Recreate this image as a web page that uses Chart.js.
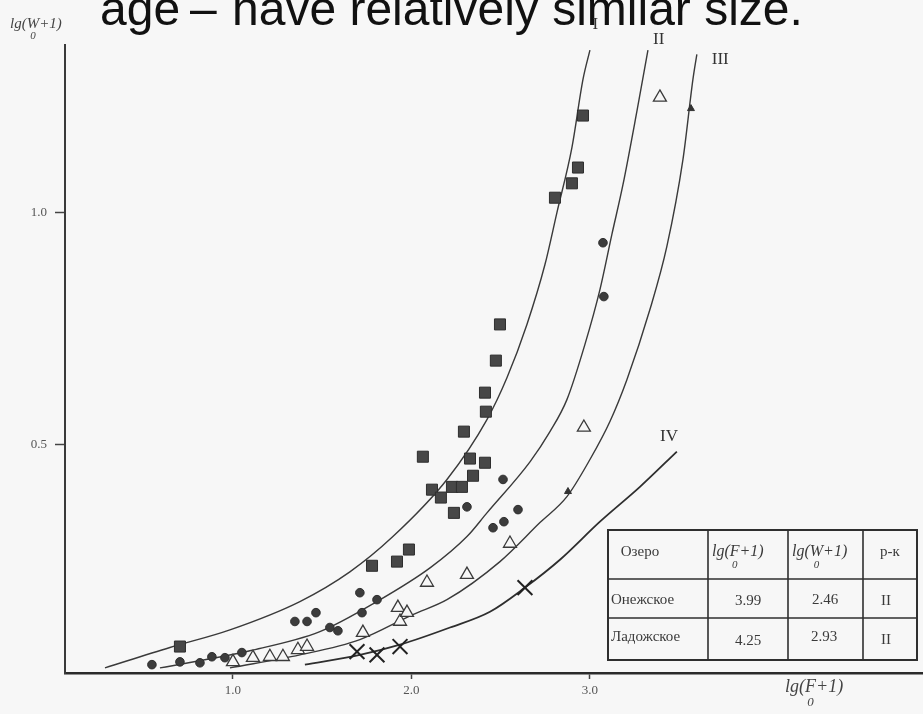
<!DOCTYPE html>
<html><head><meta charset="utf-8">
<script src="https://cdn.jsdelivr.net/npm/chart.js@4.4.1/dist/chart.umd.min.js"></script>
<style>html,body{margin:0;padding:0;background:#f7f7f7;}canvas{display:block;}</style>
</head><body>
<canvas id="c" width="923" height="714"></canvas>
<script>
// ---- tick values ----
const xTicks = [1.0, 2.0, 3.0];
const yTicks = [0.5, 1.0];

// ---- markers ----
const squaresX = [0.703,1.779,1.919,1.986,2.064,2.115,2.165,2.227,2.238,2.283,2.294,2.328,2.345,2.412,2.412,2.417,2.473,2.496,2.804,2.899,2.933,2.961];
const squaresY = [0.065,0.239,0.248,0.274,0.474,0.403,0.386,0.409,0.353,0.409,0.528,0.470,0.433,0.461,0.612,0.571,0.681,0.759,1.032,1.063,1.097,1.209];

const circlesX = [0.546,0.703,0.815,0.882,0.955,1.050,1.347,1.415,1.465,1.543,1.588,1.711,1.723,1.807,2.311,2.457,2.513,2.518,2.597,3.073,3.078];
const circlesY = [0.026,0.032,0.030,0.043,0.041,0.052,0.119,0.119,0.138,0.106,0.099,0.181,0.138,0.166,0.366,0.321,0.425,0.334,0.360,0.935,0.819];

const trianglesX = [1.000,1.112,1.207,1.280,1.364,1.415,1.728,1.924,1.936,1.975,2.087,2.311,2.552,2.966,3.392];
const trianglesY = [0.032,0.041,0.043,0.043,0.058,0.065,0.095,0.149,0.119,0.138,0.203,0.220,0.287,0.537,1.248];

const arrowsX = [2.877, 3.566];
const arrowsY = [0.399, 1.224];

const crossesX = [1.695, 1.807, 1.936, 2.636];
const crossesY = [0.054, 0.047, 0.065, 0.192];

// ---- curves ----
const curveIX = [0.283,0.647,0.983,1.375,1.655,1.896,2.199,2.423,2.535,2.647,2.748,2.815,2.899,2.961,3.000];
const curveIY = [0.019,0.063,0.101,0.162,0.226,0.302,0.425,0.554,0.644,0.759,0.888,1.000,1.140,1.287,1.350];

const curveIIX = [0.591,1.095,1.487,1.807,2.106,2.311,2.423,2.664,2.776,2.871,2.972,3.056,3.123,3.185,3.263,3.325];
const curveIIY = [0.019,0.056,0.097,0.162,0.235,0.302,0.353,0.463,0.528,0.597,0.716,0.834,0.953,1.060,1.218,1.350];

const curveIIIX = [0.983,1.375,1.711,2.008,2.199,2.496,2.720,2.871,3.000,3.112,3.207,3.336,3.431,3.521,3.577,3.599];
const curveIIIY = [0.019,0.047,0.080,0.134,0.166,0.248,0.332,0.388,0.468,0.550,0.640,0.791,0.927,1.114,1.287,1.341];

const curveIVX = [1.403,1.711,1.936,2.216,2.440,2.636,2.832,3.056,3.280,3.487];
const curveIVY = [0.026,0.047,0.069,0.106,0.140,0.192,0.252,0.334,0.409,0.485];

const curveNames = ['I','II','III','IV'];
const curveNameX = [3.030, 3.385, 3.730, 3.443];
const curveNameY = [1.405, 1.373, 1.330, 0.517];

// ---- inset table ----
const tableHead = ['Озеро', 'F', 'W', 'р-к'];
const tableLakes = ['Онежское', 'Ладожское'];
const tableF = ['3.99', '4.25'];
const tableW = ['2.46', '2.93'];
const tableType = ['II', 'II'];

const captionParts = ['age', '–', 'have relatively similar size.'];

const pts = (xs, ys) => xs.map((x, i) => ({x, y: ys[i]}));
const BG = '#f7f7f7';
const INK = '#333333';

function curve(xs, ys) {
  return {type:'line', data: pts(xs, ys), showLine:true, pointRadius:0, borderColor:'#3a3a3a',
    borderWidth:1.4, cubicInterpolationMode:'monotone', fill:false};
}

const extras = {
  id:'extras',
  beforeDraw(chart){
    const c = chart.ctx;
    c.save(); c.fillStyle = BG; c.fillRect(0,0,chart.width,chart.height); c.restore();
  },
  afterDraw(chart){
    const c = chart.ctx, xs = chart.scales.x, ys = chart.scales.y;
    c.save();
    // caption (cut off at top)
    c.fillStyle = '#111'; c.font = '48px "Liberation Sans", Arial, sans-serif';
    c.textBaseline = 'alphabetic'; c.textAlign = 'left';
    c.fillText(captionParts[0], 100, 25);
    c.fillText(captionParts[1], 190, 25);
    c.fillText(captionParts[2], 232, 25);

    // curve names
    c.fillStyle = INK; c.font = '17px "Liberation Serif", serif';
    c.textAlign = 'center'; c.textBaseline = 'middle';
    curveNames.forEach((n,i)=>c.fillText(n, xs.getPixelForValue(curveNameX[i]), ys.getPixelForValue(curveNameY[i])));

    // axis titles
    const lgText = (letter, x, y, size) => {
      c.textAlign = 'left'; c.textBaseline = 'alphabetic';
      c.font = 'italic ' + size + 'px "Liberation Serif", serif';
      const a = 'lg(' , b = letter, d = '+1)';
      c.fillText(a, x, y); let w = c.measureText(a).width;
      c.fillText(b, x + w, y); const wb = c.measureText(b).width;
      c.fillText(d, x + w + wb, y);
      c.font = 'italic ' + Math.round(size*0.7) + 'px "Liberation Serif", serif';
      c.textAlign = 'center';
      c.fillText('0', x + w + wb/2, y + size*0.75);
    };
    c.fillStyle = '#444';
    lgText('W', 10, 28, 15);
    lgText('F', 785, 692, 18);

    // table
    const L = 608, R = 917, T = 530, B = 660;
    const cols = [L, 708, 788, 863, R];
    const rows = [T, 579, 618, B];
    c.strokeStyle = '#2f2f2f'; c.lineWidth = 2;
    c.fillStyle = BG; c.fillRect(L, T, R-L, B-T);
    c.strokeRect(L, T, R-L, B-T);
    c.lineWidth = 1.6;
    cols.slice(1,-1).forEach(x=>{c.beginPath(); c.moveTo(x,T); c.lineTo(x,B); c.stroke();});
    rows.slice(1,-1).forEach(y=>{c.beginPath(); c.moveTo(L,y); c.lineTo(R,y); c.stroke();});
    c.fillStyle = '#3a3a3a';
    c.font = '15px "Liberation Serif", serif'; c.textBaseline = 'middle'; c.textAlign = 'center';
    c.fillText(tableHead[0], 640, 552);
    c.fillText(tableHead[3], 890, 552);
    lgText(tableHead[1], 712, 556, 16);
    lgText(tableHead[2], 792, 556, 16);
    c.font = '15px "Liberation Serif", serif'; c.textBaseline = 'middle';
    c.textAlign = 'left';
    c.fillText(tableLakes[0], 611, 600);
    c.fillText(tableLakes[1], 611, 637);
    c.textAlign = 'center';
    c.fillText(tableF[0], 748, 601); c.fillText(tableF[1], 748, 641);
    c.fillText(tableW[0], 825, 600); c.fillText(tableW[1], 824, 637);
    c.fillText(tableType[0], 886, 601); c.fillText(tableType[1], 886, 640);
    c.restore();
  }
};

new Chart(document.getElementById('c').getContext('2d'), {
  type:'scatter',
  data:{datasets:[
    {data: pts(squaresX, squaresY), pointStyle:'rect', pointRadius:7.8, backgroundColor:'#474747', borderColor:'#2e2e2e', borderWidth:1},
    {data: pts(circlesX, circlesY), pointStyle:'circle', pointRadius:4.3, backgroundColor:'#3c3c3c', borderColor:'#2e2e2e', borderWidth:1},
    {data: pts(trianglesX, trianglesY), pointStyle:'triangle', pointRadius:7.5, backgroundColor:BG, borderColor:'#3a3a3a', borderWidth:1.3},
    {data: pts(arrowsX, arrowsY), pointStyle:'triangle', pointRadius:4, backgroundColor:'#333', borderColor:'#333', borderWidth:1},
    {data: pts(crossesX, crossesY), pointStyle:'crossRot', pointRadius:10.5, backgroundColor:'#222', borderColor:'#222', borderWidth:2},
    curve(curveIX, curveIY),
    curve(curveIIX, curveIIY),
    curve(curveIIIX, curveIIIY),
    Object.assign(curve(curveIVX, curveIVY), {borderWidth:1.8, borderColor:'#2e2e2e'})
  ]},
  options:{
    responsive:false, animation:false, devicePixelRatio:1,
    layout:{autoPadding:false, padding:{left:0, top:45, right:0, bottom:0}},
    plugins:{legend:{display:false}, tooltip:{enabled:false}},
    scales:{
      x:{type:'linear', min:0.059, max:4.866,
        afterFit(s){ s.height = 41; },
        afterBuildTicks(s){ s.ticks = xTicks.map(v=>({value:v})); },
        ticks:{callback:v=>Number(v).toFixed(1), font:{family:'"Liberation Serif", serif', size:13}, color:'#555', padding:4, maxRotation:0, autoSkip:false},
        grid:{display:true, drawOnChartArea:false, tickLength:6, color:'#444', tickWidth:1.5},
        border:{display:true, color:'#2b2b2b', width:2.5}},
      y:{type:'linear', min:0.008, max:1.361,
        afterFit(s){ s.width = 65; },
        afterBuildTicks(s){ s.ticks = yTicks.map(v=>({value:v})); },
        ticks:{callback:v=>Number(v).toFixed(1), font:{family:'"Liberation Serif", serif', size:13}, color:'#555', padding:8, autoSkip:false},
        grid:{display:true, drawOnChartArea:false, tickLength:10, color:'#444', tickWidth:1.5},
        border:{display:true, color:'#3a3a3a', width:2}}
    }
  },
  plugins:[extras]
});
</script>
</body></html>
